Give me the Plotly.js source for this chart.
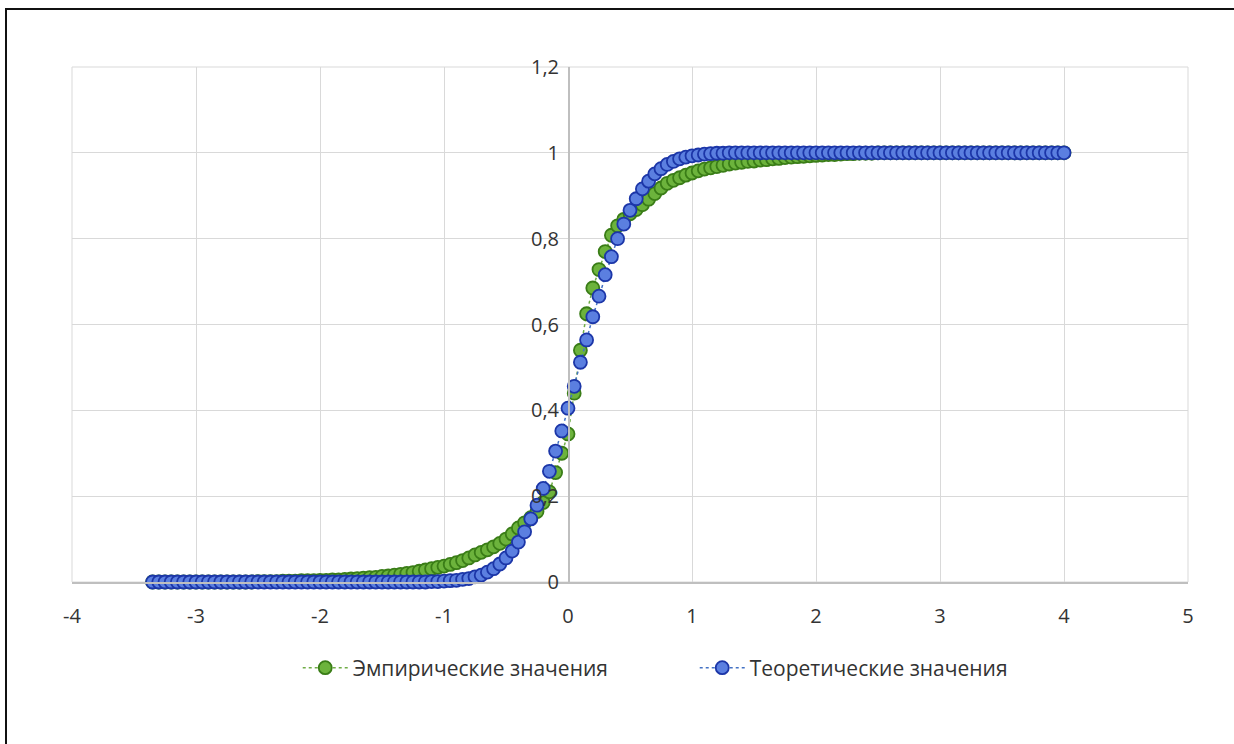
<!DOCTYPE html>
<html>
<head>
<meta charset="utf-8">
<script src="https://cdn.plot.ly/plotly-3.0.1.min.js"></script>
<style>
  html, body { margin: 0; padding: 0; background: #fff; overflow: hidden; }
  #chart { width: 1234px; height: 744px; }
  #frame { position: absolute; left: 5px; top: 8px; width: 1300px; height: 800px;
           border-left: 2px solid #111; border-top: 2px solid #111; pointer-events: none; z-index: 10; }
</style>
</head>
<body>
<div id="chart"></div>
<div id="frame"></div>
<script>
// X values (shared by both series)
const xValues = [
  -3.35,-3.30,-3.25,-3.20,-3.15,-3.10,-3.05,-3.00,-2.95,-2.90,
  -2.85,-2.80,-2.75,-2.70,-2.65,-2.60,-2.55,-2.50,-2.45,-2.40,
  -2.35,-2.30,-2.25,-2.20,-2.15,-2.10,-2.05,-2.00,-1.95,-1.90,
  -1.85,-1.80,-1.75,-1.70,-1.65,-1.60,-1.55,-1.50,-1.45,-1.40,
  -1.35,-1.30,-1.25,
  -1.20,-1.15,-1.10,-1.05,-1.00,-0.95,-0.90,-0.85,-0.80,-0.75,
  -0.70,-0.65,-0.60,-0.55,-0.50,-0.45,-0.40,-0.35,-0.30,-0.25,
  -0.20,-0.15,-0.10,-0.05,0.00,0.05,0.10,0.15,0.20,0.25,
  0.30,0.35,0.40,0.45,0.50,0.55,0.60,0.65,0.70,0.75,
  0.80,0.85,0.90,0.95,1.00,1.05,1.10,1.15,1.20,1.25,
  1.30,1.35,1.40,1.45,1.50,1.55,1.60,1.65,1.70,1.75,
  1.80,1.85,1.90,1.95,2.00,2.05,2.10,2.15,2.20,2.25,
  2.30,2.35,2.40,2.45,2.50,2.55,2.60,2.65,2.70,2.75,
  2.80,2.85,2.90,2.95,3.00,3.05,3.10,3.15,3.20,3.25,
  3.30,3.35,3.40,3.45,3.50,3.55,3.60,3.65,3.70,3.75,
  3.80,3.85,3.90,3.95,4.00
];

// Empirical values (green)
const empiricalValues = [
  0,0,0,0,0,0,0,0,0,0,
  0,0,0,0,0,0,0,0.001,0.001,0.001,
  0.001,0.002,0.002,0.002,0.003,0.003,0.003,0.004,0.004,0.005,
  0.005,0.006,0.007,0.008,0.009,0.010,0.011,0.013,0.014,0.016,
  0.018,0.020,0.022,
  0.025,0.028,0.031,0.034,0.037,0.041,0.045,0.050,0.056,0.063,
  0.069,0.075,0.082,0.090,0.100,0.112,0.126,0.138,0.150,0.164,
  0.185,0.210,0.255,0.300,0.345,0.440,0.540,0.625,0.685,0.728,
  0.770,0.808,0.830,0.845,0.858,0.868,0.879,0.892,0.905,0.918,
  0.929,0.936,0.942,0.948,0.953,0.958,0.962,0.965,0.968,0.971,
  0.974,0.976,0.978,0.980,0.981,0.983,0.984,0.986,0.987,0.989,
  0.990,0.991,0.992,0.993,0.994,0.995,0.996,0.996,0.997,0.998,
  0.998,0.999,0.999,0.999,1,1,1,1,1,1,
  1,1,1,1,1,1,1,1,1,1,
  1,1,1,1,1,1,1,1,1,1,
  1,1,1,1,1
];

// Theoretical values (blue)
const theoreticalValues = [
  0,0,0,0,0,0,0,0,0,0,
  0,0,0,0,0,0,0,0,0,0,
  0,0,0,0,0,0,0,0,0,0,
  0,0,0,0,0,0,0,0,0,0,
  0,0,0,
  0,0,0.001,0.001,0.002,0.003,0.004,0.006,0.008,0.012,
  0.016,0.023,0.031,0.042,0.056,0.072,0.093,0.117,0.147,0.179,
  0.218,0.258,0.305,0.352,0.405,0.456,0.512,0.564,0.618,0.666,
  0.716,0.758,0.800,0.834,0.866,0.893,0.916,0.934,0.951,0.963,
  0.973,0.980,0.986,0.990,0.993,0.995,0.997,0.998,0.999,0.999,
  1,1,1,1,1,1,1,1,1,1,
  1,1,1,1,1,1,1,1,1,1,
  1,1,1,1,1,1,1,1,1,1,
  1,1,1,1,1,1,1,1,1,1,
  1,1,1,1,1,1,1,1,1,1,
  1,1,1,1,1
];

const seriesNames = ["Эмпирические значения", "Теоретические значения"];

const xTickVals = [-4,-3,-2,-1,0,1,2,3,4,5];
const xTickText = ["-4","-3","-2","-1","0","1","2","3","4","5"];
const yTickVals = [0,0.2,0.4,0.6,0.8,1,1.2];
const yTickText = ["0","0,2","0,4","0,6","0,8","1","1,2"];

const FONT = "'Open Sans', 'Noto Sans', sans-serif";
const TXT = "#333333";

const traces = [
  {
    x: xValues, y: empiricalValues, name: seriesNames[0],
    type: "scatter", mode: "lines+markers",
    line: { color: "#70ad47", width: 1.5, dash: "dot" },
    marker: { size: 13, color: "#6cb33c", line: { color: "#3a7d17", width: 1.8 } },
    cliponaxis: false
  },
  {
    x: xValues, y: theoreticalValues, name: seriesNames[1],
    type: "scatter", mode: "lines+markers",
    line: { color: "#4472c4", width: 1.5, dash: "dot" },
    marker: { size: 13, color: "#5b7fe0", line: { color: "#1c36a8", width: 1.8 } },
    cliponaxis: false
  }
];

const layout = {
  width: 1234, height: 744,
  margin: { l: 72, r: 46, t: 67, b: 162 },
  paper_bgcolor: "#ffffff", plot_bgcolor: "#ffffff",
  separators: ", ",
  font: { family: FONT, size: 20, color: TXT },
  showlegend: true,
  legend: {
    orientation: "h", x: 0.558, xanchor: "center", y: -0.167, yanchor: "middle",
    font: { family: FONT, size: 21, color: TXT }, traceorder: "normal",
    itemwidth: 45, entrywidth: 337, entrywidthmode: "pixels"
  },
  xaxis: {
    range: [-4, 5], tickmode: "array", tickvals: xTickVals, ticktext: xTickText,
    showgrid: true, gridcolor: "#d9d9d9", gridwidth: 1,
    zeroline: false, showline: true, linecolor: "#bfbfbf", linewidth: 1.5,
    ticks: "", ticklabelstandoff: 15,
    tickfont: { family: FONT, size: 20, color: TXT }, fixedrange: true
  },
  yaxis: {
    range: [0, 1.2], tickmode: "array", tickvals: yTickVals, ticktext: yTickText,
    anchor: "free", position: 4 / 9,
    showgrid: true, gridcolor: "#d9d9d9", gridwidth: 1,
    zeroline: false, showline: true, linecolor: "#bfbfbf", linewidth: 1.5,
    ticks: "", ticklabelstandoff: 5,
    tickfont: { family: FONT, size: 20, color: TXT }, fixedrange: true
  },
  shapes: [
    { type: "rect", xref: "paper", yref: "paper", x0: 0, x1: 1, y0: 0, y1: 1,
      line: { color: "#d9d9d9", width: 1 }, layer: "below" }
  ]
};

Plotly.newPlot("chart", traces, layout, { displayModeBar: false, staticPlot: true });
</script>
</body>
</html>
